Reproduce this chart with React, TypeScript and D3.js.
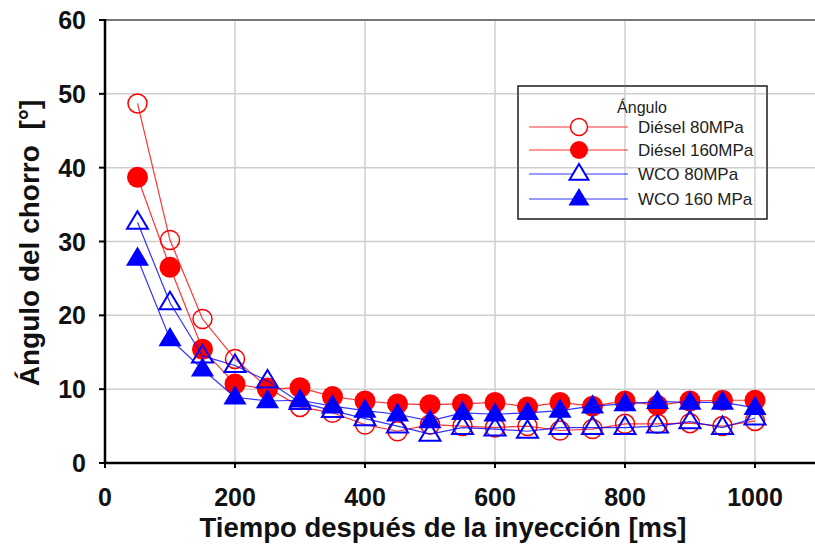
import { useEffect, useRef } from "react";
import * as d3 from "d3";

const times = [50, 100, 150, 200, 250, 300, 350, 400, 450, 500, 550, 600, 650, 700, 750, 800, 850, 900, 950, 1000];
const diesel80 = [48.7, 30.2, 19.5, 14.1, 10.2, 7.6, 6.8, 5.2, 4.3, 5.2, 5.0, 4.8, 5.0, 4.4, 4.6, 5.3, 5.3, 5.4, 5.0, 5.7];
const diesel160 = [38.7, 26.5, 15.4, 10.7, 10.0, 10.2, 9.0, 8.4, 8.0, 7.9, 8.0, 8.2, 7.6, 8.2, 7.7, 8.4, 7.8, 8.4, 8.5, 8.5];
const wco80 = [32.6, 21.7, 14.5, 13.2, 11.1, 8.2, 7.1, 6.0, 5.0, 3.9, 4.8, 4.6, 4.3, 4.8, 4.8, 4.8, 5.0, 5.6, 4.8, 6.1];
const wco160 = [27.7, 16.8, 12.7, 8.9, 8.4, 8.5, 7.7, 7.1, 6.6, 5.7, 6.8, 6.6, 6.8, 7.1, 7.7, 8.0, 8.3, 8.2, 8.2, 7.5];
const xTicks = [0, 200, 400, 600, 800, 1000];
const yTicks = [0, 10, 20, 30, 40, 50, 60];

const series = [
  { name: "Diésel 80MPa", values: diesel80, color: "#ff0000", shape: "circle", filled: false },
  { name: "Diésel 160MPa", values: diesel160, color: "#ff0000", shape: "circle", filled: true },
  { name: "WCO 80MPa", values: wco80, color: "#0000ff", shape: "triangle", filled: false },
  { name: "WCO 160 MPa", values: wco160, color: "#0000ff", shape: "triangle", filled: true },
];

const width = 815;
const height = 544;

export default function App() {
  const svgRef = useRef<SVGSVGElement>(null);

  useEffect(() => {
    const svg = d3.select(svgRef.current);
    svg.selectAll("*").remove();

    const x = d3.scaleLinear().domain([0, 1100]).range([105, 820]);
    const y = d3.scaleLinear().domain([0, 60]).range([463, 20]);

    // grid
    const grid = svg.append("g");
    grid.selectAll("line.h")
      .data(yTicks.filter((t) => t > 0 && t < 60))
      .join("line")
      .attr("x1", x(0)).attr("x2", width)
      .attr("y1", (d) => y(d)).attr("y2", (d) => y(d))
      .attr("stroke", "#cfcfcf").attr("stroke-width", 1.5);
    grid.selectAll("line.v")
      .data(xTicks.filter((t) => t > 0))
      .join("line")
      .attr("x1", (d) => x(d)).attr("x2", (d) => x(d))
      .attr("y1", y(60)).attr("y2", y(0))
      .attr("stroke", "#cfcfcf").attr("stroke-width", 1.5);

    // top border
    svg.append("line")
      .attr("x1", x(0)).attr("x2", width)
      .attr("y1", y(60)).attr("y2", y(60))
      .attr("stroke", "#777").attr("stroke-width", 2);

    const tri = (r: number) => `M0,${-r} L${r * 1.05},${r * 0.75} L${-r * 1.05},${r * 0.75} Z`;

    // series
    series.forEach((s) => {
      const pts = times.map((t, i) => [t, s.values[i]] as [number, number]);
      svg.append("path")
        .attr("d", d3.line().x((d) => x(d[0])).y((d) => y(d[1]))(pts))
        .attr("fill", "none")
        .attr("stroke", s.color)
        .attr("stroke-opacity", 0.8)
        .attr("stroke-width", 1.2);
      const g = svg.append("g");
      if (s.shape === "circle") {
        g.selectAll("circle")
          .data(pts)
          .join("circle")
          .attr("cx", (d) => x(d[0])).attr("cy", (d) => y(d[1]))
          .attr("r", s.filled ? 10.5 : 9.5)
          .attr("fill", s.filled ? s.color : "none")
          .attr("stroke", s.color)
          .attr("stroke-width", s.filled ? 0 : 1.5);
      } else {
        g.selectAll("path")
          .data(pts)
          .join("path")
          .attr("transform", (d) => `translate(${x(d[0])},${y(d[1]) - 1})`)
          .attr("d", tri(s.filled ? 11 : 10))
          .attr("fill", s.filled ? s.color : "none")
          .attr("stroke", s.color)
          .attr("stroke-width", s.filled ? 0 : 2);
      }
    });

    // axes
    const axes = svg.append("g").attr("stroke", "#000");
    axes.append("line").attr("x1", x(0)).attr("x2", width).attr("y1", y(0)).attr("y2", y(0)).attr("stroke-width", 2.5);
    axes.append("line").attr("x1", x(0)).attr("x2", x(0)).attr("y1", y(60) - 1).attr("y2", y(0)).attr("stroke-width", 2.5);
    axes.selectAll("line.yt")
      .data(yTicks)
      .join("line")
      .attr("x1", x(0) - 6).attr("x2", x(0))
      .attr("y1", (d) => y(d)).attr("y2", (d) => y(d))
      .attr("stroke-width", 2);
    axes.selectAll("line.xt")
      .data(xTicks)
      .join("line")
      .attr("x1", (d) => x(d)).attr("x2", (d) => x(d))
      .attr("y1", y(0)).attr("y2", y(0) + 5)
      .attr("stroke-width", 2);

    const font = "'Liberation Sans', Arial, sans-serif";
    svg.append("g")
      .selectAll("text")
      .data(yTicks)
      .join("text")
      .attr("x", 86).attr("y", (d) => y(d) + 9)
      .attr("text-anchor", "end")
      .attr("font-family", font).attr("font-weight", "bold").attr("font-size", 25)
      .attr("fill", "#111")
      .text((d) => d);
    svg.append("g")
      .selectAll("text")
      .data(xTicks)
      .join("text")
      .attr("x", (d) => x(d)).attr("y", 506)
      .attr("text-anchor", "middle")
      .attr("font-family", font).attr("font-weight", "bold").attr("font-size", 25)
      .attr("fill", "#111")
      .text((d) => d);

    svg.append("text")
      .attr("x", 443).attr("y", 537)
      .attr("text-anchor", "middle")
      .attr("font-family", font).attr("font-weight", "bold").attr("font-size", 27.5)
      .attr("fill", "#111")
      .text("Tiempo después de la inyección [ms]");
    svg.append("text")
      .attr("transform", `translate(39,243) rotate(-90)`)
      .attr("text-anchor", "middle")
      .attr("font-family", font).attr("font-weight", "bold").attr("font-size", 28)
      .attr("fill", "#111")
      .text("Ángulo del chorro\u00a0\u00a0[°]");

    // legend
    const lg = svg.append("g");
    lg.append("rect")
      .attr("x", 518).attr("y", 86).attr("width", 249).attr("height", 133)
      .attr("fill", "#fff").attr("stroke", "#333").attr("stroke-width", 1.2);
    lg.append("line").attr("x1", 625).attr("x2", 625).attr("y1", 86).attr("y2", 219).attr("stroke", "#cfcfcf").attr("stroke-width", 1.5);
    lg.append("line").attr("x1", 755).attr("x2", 755).attr("y1", 86).attr("y2", 219).attr("stroke", "#cfcfcf").attr("stroke-width", 1.5);
    lg.append("line").attr("x1", 518).attr("x2", 767).attr("y1", y(40)).attr("y2", y(40)).attr("stroke", "#cfcfcf").attr("stroke-width", 1.5);
    lg.append("line").attr("x1", 518).attr("x2", 767).attr("y1", y(50)).attr("y2", y(50)).attr("stroke", "#cfcfcf").attr("stroke-width", 1.5);
    lg.append("rect")
      .attr("x", 518).attr("y", 86).attr("width", 249).attr("height", 133)
      .attr("fill", "none").attr("stroke", "#333").attr("stroke-width", 1.2);
    lg.append("text")
      .attr("x", 642).attr("y", 113)
      .attr("text-anchor", "middle")
      .attr("font-family", font).attr("font-size", 16).attr("fill", "#222")
      .text("Ángulo");
    const rowsY = [127, 150, 174, 199];
    series.forEach((s, i) => {
      const ry = rowsY[i];
      lg.append("line")
        .attr("x1", 529).attr("x2", 628).attr("y1", ry).attr("y2", ry)
        .attr("stroke", s.color).attr("stroke-opacity", 0.8).attr("stroke-width", 1.2);
      if (s.shape === "circle") {
        lg.append("circle")
          .attr("cx", 579).attr("cy", ry)
          .attr("r", s.filled ? 9 : 8.5)
          .attr("fill", s.filled ? s.color : "#fff")
          .attr("stroke", s.color).attr("stroke-width", s.filled ? 0 : 1.5);
      } else {
        lg.append("path")
          .attr("transform", `translate(579,${ry - 1})`)
          .attr("d", tri(s.filled ? 10 : 9))
          .attr("fill", s.filled ? s.color : "#fff")
          .attr("stroke", s.color).attr("stroke-width", s.filled ? 0 : 2);
      }
      lg.append("text")
        .attr("x", 638).attr("y", ry + 6)
        .attr("font-family", font).attr("font-size", 17).attr("fill", "#222")
        .text(s.name);
    });
  }, []);

  return (
    <svg
      ref={svgRef}
      width={width}
      height={height}
      style={{ display: "block", position: "absolute", left: 0, top: 0, background: "#fff" }}
    />
  );
}
